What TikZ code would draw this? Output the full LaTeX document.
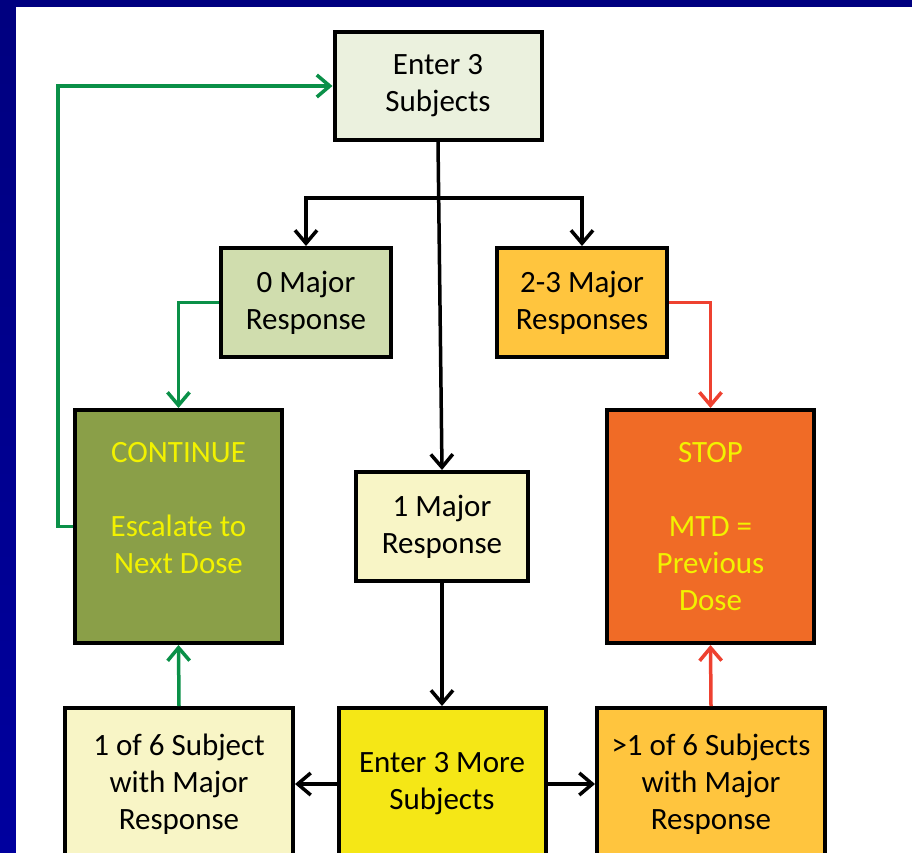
\documentclass[tikz,border=0pt]{standalone}
\usepackage{fontspec}
\setmainfont{Carlito}
\usepackage{xcolor}
\usepackage{tikz}
\usetikzlibrary{arrows.meta, positioning}

\definecolor{entercol}{HTML}{EBF1DE}
\definecolor{zerocol}{HTML}{D0DDAE}
\definecolor{contcol}{HTML}{8A9F48}
\definecolor{onecol}{HTML}{F8F5C6}
\definecolor{manycol}{HTML}{FFC53E}
\definecolor{stopcol}{HTML}{F06B26}
\definecolor{morecol}{HTML}{F5E716}
\definecolor{signyellow}{HTML}{F2F200}
\definecolor{gogreen}{HTML}{0A9048}
\definecolor{stopred}{HTML}{EE4130}

\begin{document}
\begin{tikzpicture}[
    x=1pt, y=-1pt,
    box/.style={rectangle, draw, line width=4pt, inner sep=2pt, align=center, minimum width=207pt, minimum height=108pt, font=\fontsize{31}{37}\selectfont},
    small/.style={minimum width=170pt, minimum height=109pt},
    tall/.style={minimum height=233pt, text=signyellow},
    bottom/.style={minimum height=152pt},
    arrow/.style={-{Straight Barb[length=13pt, width=22pt]}, line width=3.5pt},
    goarrow/.style={arrow, draw=gogreen},
    stoparrow/.style={arrow, draw=stopred}
]
    \useasboundingbox (0,0) rectangle (912,852);
    \clip (0,0) rectangle (912,852);
    \shade[top color=blue!50!black, bottom color=blue!62!black] (0,0) rectangle (912,852);
    \fill[white] (16,7) rectangle (920,860);

    \node[box, fill=entercol] (subjects) at (438,86) {Enter 3\\Subjects};
    \coordinate[below=56pt of subjects] (split);
    \node[box, small, fill=zerocol] (zero) at (306,302.5) {0 Major\\Response};
    \node[box, small, fill=manycol] (twothree) at (582,302.5) {2-3 Major\\Responses};
    \node[box, tall, fill=contcol] (cont) at (178.5,526.5) {CONTINUE\\\mbox{}\\Escalate to\\Next Dose\\\mbox{}};
    \node[box, tall, fill=stopcol] (stop) at (710.5,526.5) {STOP\\\mbox{}\\MTD =\\Previous\\Dose};
    \node[box, small, minimum width=172pt, fill=onecol] (one) at (442,526.5) {1 Major\\Response};
    \node[box, bottom, fill=morecol] (more) at (442,784) {Enter 3 More\\Subjects};
    \node[box, bottom, minimum width=228pt, fill=onecol] (oneofsix) at (179,784) {1 of 6 Subject\\with Major\\Response};
    \node[box, bottom, minimum width=228pt, fill=manycol] (morethan) at (711,784) {>1 of 6 Subjects\\with Major\\Response};

    \draw[arrow] (subjects.south) -- (one.north);
    \draw[arrow] (split) -| (zero.north);
    \draw[arrow] (split) -| (twothree.north);
    \draw[goarrow] (zero.west) -| (cont.north);
    \draw[stoparrow] (twothree.east) -| (stop.north);
    \draw[arrow] (one.south) -- (more.north);
    \draw[arrow] (more.west) -- (oneofsix.east);
    \draw[arrow] (more.east) -- (morethan.west);
    \draw[goarrow] (oneofsix.north) -- (cont.south);
    \draw[stoparrow] (morethan.north) -- (stop.south);
    \draw[goarrow] (cont.west) -- ++(-15,0) |- (subjects.west);
\end{tikzpicture}
\end{document}
